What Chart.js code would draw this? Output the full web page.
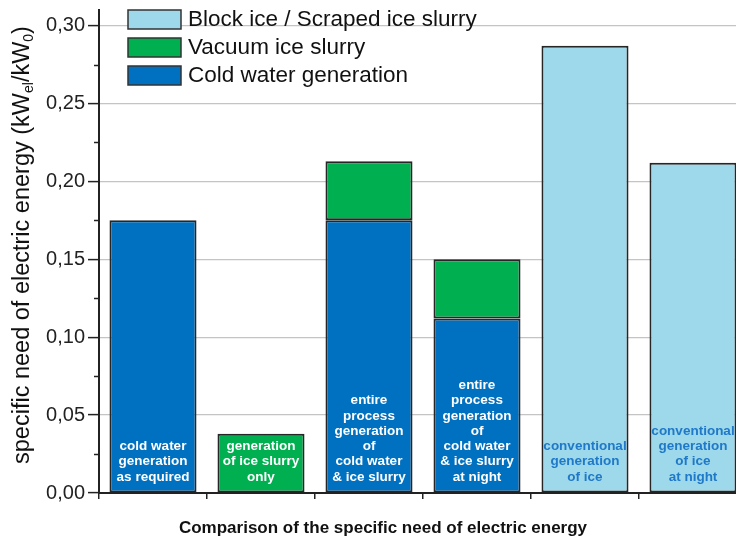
<!DOCTYPE html>
<html><head><meta charset="utf-8">
<script src="https://cdn.jsdelivr.net/npm/chart.js@4.4.1/dist/chart.umd.min.js"></script>
<style>
html,body{margin:0;padding:0;overflow:hidden;background:#fff;width:736px;height:539px}
#wrap{width:760px;height:539px}
</style></head>
<body><div id="wrap"><canvas id="c" width="760" height="539"></canvas></div>
<script>
// ---- data ----
const categories = [
  'cold water generation as required',
  'generation of ice slurry only',
  'entire process generation of cold water & ice slurry',
  'entire process generation of cold water & ice slurry at night',
  'conventional generation of ice',
  'conventional generation of ice at night'
];
const seriesNames = ['Cold water generation', 'Vacuum ice slurry', 'Block ice / Scraped ice slurry'];
const coldWater    = [0.175, null, 0.175, 0.112, null, null];
const vacuumSlurry = [null, 0.038, 0.038, 0.038, null, null];
const blockIce     = [null, null, null, null, 0.287, 0.212];
const yMajorTicks = [0, 0.05, 0.10, 0.15, 0.20, 0.25, 0.30];
const yMinorTicks = [0.025, 0.075, 0.125, 0.175, 0.225, 0.275];
const barLabels = [
  ['cold water', 'generation', 'as required'],
  ['generation', 'of ice slurry', 'only'],
  ['entire', 'process', 'generation', 'of', 'cold water', '& ice slurry'],
  ['entire', 'process', 'generation', 'of', 'cold water', '& ice slurry', 'at night'],
  ['conventional', 'generation', 'of ice'],
  ['conventional', 'generation', 'of ice', 'at night']
];
const yTitleParts = [['specific need of electric energy (kW', false], ['el', true], ['/kW', false], ['0', true], [')', false]];
const xTitle = 'Comparison of the specific need of electric energy';

// ---- styles ----
const FONT = "'Liberation Sans', Arial, sans-serif";
const colors = ['#0070c0', '#00b050', '#9dd9ea'];
const labelColors = ['#ffffff', '#ffffff', '#ffffff', '#ffffff', '#1f78c8', '#1f78c8'];
Chart.defaults.font.family = FONT;

const annot = {
  id: 'annot',
  afterDatasetsDraw(chart) {
    const ctx = chart.ctx, xs = chart.scales.x;
    ctx.save();
    ctx.font = 'bold 13.5px ' + FONT;
    ctx.textAlign = 'center';
    ctx.textBaseline = 'middle';
    const lastY = 477, lh = 15.3;
    barLabels.forEach((lines, i) => {
      const cx = xs.getPixelForValue(i);
      ctx.fillStyle = labelColors[i];
      lines.forEach((t, k) => {
        ctx.fillText(t, cx, lastY - (lines.length - 1 - k) * lh);
      });
    });
    ctx.restore();
  },
  afterDraw(chart) {
    const ctx = chart.ctx, ys = chart.scales.y, ca = chart.chartArea;
    ctx.save();
    // minor ticks
    ctx.strokeStyle = '#222'; ctx.lineWidth = 1.5;
    yMinorTicks.forEach(v => {
      const y = Math.round(ys.getPixelForValue(v)) + 0.5;
      ctx.beginPath(); ctx.moveTo(ca.left - 5, y); ctx.lineTo(ca.left, y); ctx.stroke();
    });
    // legend
    const ds = chart.data.datasets.slice().reverse();
    ctx.font = '22.5px ' + FONT;
    ctx.textBaseline = 'middle';
    ctx.textAlign = 'left';
    ds.forEach((d, i) => {
      const top = 10 + i * 28;
      ctx.fillStyle = d.backgroundColor;
      ctx.fillRect(128, top, 53, 19);
      ctx.strokeStyle = '#333'; ctx.lineWidth = 1.5;
      ctx.strokeRect(128, top, 53, 19);
      ctx.fillStyle = '#111';
      ctx.fillText(d.label, 188, top + 10);
    });
    // x title
    ctx.font = 'bold 17px ' + FONT;
    ctx.textAlign = 'center';
    ctx.textBaseline = 'alphabetic';
    ctx.fillStyle = '#111';
    ctx.fillText(xTitle, 383, 533);
    // y title with subscripts
    const big = '23.5px ' + FONT, small = '14px ' + FONT;
    let total = 0;
    yTitleParts.forEach(([t, sub]) => { ctx.font = sub ? small : big; total += ctx.measureText(t).width; });
    ctx.translate(29, 245);
    ctx.rotate(-Math.PI / 2);
    ctx.textAlign = 'left';
    let x = -total / 2;
    yTitleParts.forEach(([t, sub]) => {
      ctx.font = sub ? small : big;
      ctx.fillText(t, x, sub ? 4 : 0);
      x += ctx.measureText(t).width;
    });
    ctx.restore();
  }
};

new Chart(document.getElementById('c'), {
  type: 'bar',
  data: {
    labels: categories,
    datasets: [
      { label: seriesNames[0], data: coldWater, backgroundColor: colors[0] },
      { label: seriesNames[1], data: vacuumSlurry, backgroundColor: colors[1] },
      { label: seriesNames[2], data: blockIce, backgroundColor: colors[2] }
    ].map(d => Object.assign(d, { borderColor: '#262626', borderWidth: 2, borderSkipped: false, barPercentage: 0.806, categoryPercentage: 1 }))
  },
  options: {
    responsive: false,
    animation: false,
    devicePixelRatio: 1,
    layout: { padding: { top: 10, right: 13, left: 0, bottom: 0 } },
    plugins: { legend: { display: false }, tooltip: { enabled: false } },
    scales: {
      x: {
        type: 'category', stacked: true, offset: true,
        grid: { offset: true, drawOnChartArea: false, drawTicks: true, tickLength: 6, color: '#222', lineWidth: 1.5 },
        border: { display: true, color: '#222', width: 2 },
        ticks: { display: false },
        afterFit(s) { s.height = 46; s.paddingLeft = 0; s.paddingRight = 0; }
      },
      y: {
        stacked: true, min: 0, max: 0.31,
        afterBuildTicks(s) { s.ticks = yMajorTicks.map(v => ({ value: v })); },
        ticks: { font: { size: 20 }, color: '#222', padding: 3, callback: v => Number(v).toFixed(2).replace('.', ',') },
        grid: {
          color: c => (c.tick && c.tick.value === 0) ? 'rgba(0,0,0,0)' : '#c4c4c4',
          lineWidth: 1.2, tickLength: 11, tickColor: '#222', tickWidth: 1.5
        },
        border: { color: '#222', width: 2 },
        afterFit(s) { s.width = 99; s.paddingTop = 0; s.paddingBottom = 0; }
      }
    }
  },
  plugins: [annot]
});
</script>
</body></html>
